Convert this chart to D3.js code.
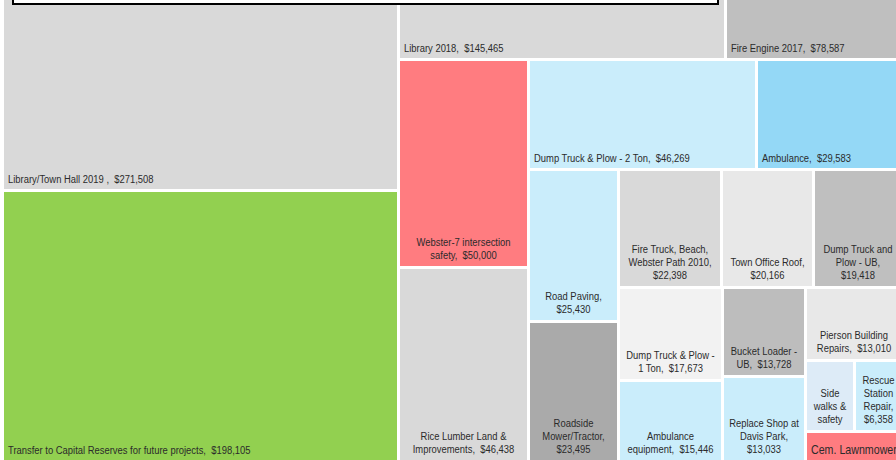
<!doctype html>
<html>
<head>
<meta charset="utf-8">
<script src="https://cdn.jsdelivr.net/npm/d3@7"></script>
<style>
  body { margin: 0; background: #fff; }
  svg { display: block; }
  text { font-family: "Liberation Sans", Arial, sans-serif; font-size: 11.5px; fill: #2b2b2b; }
</style>
</head>
<body>
<script>
// capital projects, in the order the cells are laid out
const names = [
  "Library/Town Hall 2019", "Transfer to Capital Reserves for future projects",
  "Library 2018", "Fire Engine 2017",
  "Webster-7 intersection safety", "Rice Lumber Land & Improvements",
  "Dump Truck & Plow - 2 Ton", "Ambulance",
  "Road Paving", "Roadside Mower/Tractor",
  "Fire Truck, Beach, Webster Path 2010", "Town Office Roof", "Dump Truck and Plow - UB",
  "Dump Truck & Plow - 1 Ton", "Ambulance equipment",
  "Bucket Loader - UB", "Replace Shop at Davis Park",
  "Pierson Building Repairs", "Side walks & safety", "Rescue Station Repair", "Cem. Lawnmower"
];
const values = [
  271508, 198105,
  145465, 78587,
  50000, 46438,
  46269, 29583,
  25430, 23495,
  22398, 20166, 19418,
  17673, 15446,
  13728, 13033,
  13010, 6420, 6358, 5300
];
// label text as shown, "|" marks a line break
const labels = [
  "Library/Town Hall 2019 ,  $271,508", "Transfer to Capital Reserves for future projects,  $198,105",
  "Library 2018,  $145,465", "Fire Engine 2017,  $78,587",
  "Webster-7 intersection|safety,  $50,000", "Rice Lumber Land &|Improvements,  $46,438",
  "Dump Truck & Plow - 2 Ton,  $46,269", "Ambulance,  $29,583",
  "Road Paving,|$25,430", "Roadside|Mower/Tractor,|$23,495",
  "Fire Truck, Beach,|Webster Path 2010,|$22,398", "Town Office Roof,|$20,166", "Dump Truck and|Plow - UB,|$19,418",
  "Dump Truck & Plow -|1 Ton,  $17,673", "Ambulance|equipment,  $15,446",
  "Bucket Loader -|UB,  $13,728", "Replace Shop at|Davis Park,|$13,033",
  "Pierson Building|Repairs,  $13,010", "Side|walks &|safety", "Rescue|Station|Repair,|$6,358", "Cem. Lawnmower"
];
const colors = [
  "#d9d9d9", "#92d050",
  "#d9d9d9", "#bfbfbf",
  "#ff7c80", "#d9d9d9",
  "#caedfb", "#94d8f6",
  "#caedfb", "#aaaaaa",
  "#d9d9d9", "#e8e8e8", "#bfbfbf",
  "#f2f2f2", "#caedfb",
  "#bdbdbd", "#caedfb",
  "#e8e8e8", "#ddebf7", "#caedfb", "#ff7c80"
];
// nesting of the layout: "h" splits left to right, "v" top to bottom
const groups = ["h", ["v", 0, 1], ["v", ["h", 2, 3], ["h", ["v", 4, 5], ["v", ["h", 6, 7],
  ["h", ["v", 8, 9], ["v", ["h", 10, 11, 12], ["h", ["v", 13, 14], ["v", 15, 16], ["v", 17, ["h", 18, 19], 20]]]]]]]];

const width = 896, height = 460;
const narrow = 0.82; // squeeze Liberation Sans to look like a narrow face

function build(g) {
  if (typeof g === "number") return {i: g, name: names[g], value: values[g]};
  const [dir, ...kids] = g;
  return {dir, children: kids.map(build)};
}

const root = d3.hierarchy(build(groups)).sum(d => d.value || 0);

d3.treemap()
    .tile((node, x0, y0, x1, y1) => (node.data.dir === "h" ? d3.treemapDice : d3.treemapSlice)(node, x0, y0, x1, y1))
    .size([897, 640])
    .paddingInner(3)
    .round(true)(root);

const svg = d3.select("body").append("svg")
    .attr("width", width)
    .attr("height", height);

const g = svg.append("g").attr("transform", "translate(4,-180)");

const cell = g.selectAll("g")
  .data(root.leaves())
  .join("g");

cell.append("rect")
    .attr("x", d => d.x0)
    .attr("y", d => d.y0)
    .attr("width", d => d.x1 - d.x0)
    .attr("height", d => d.y1 - d.y0)
    .attr("fill", d => colors[d.data.i]);

cell.each(function(d) {
  const lines = labels[d.data.i].split("|");
  const single = lines.length === 1;
  const ax = single ? d.x0 + 4 : (d.x0 + d.x1) / 2;
  const by = d.y1 - (single ? 6 : 7);
  const t = d3.select(this).append("text")
      .attr("transform", `translate(${ax},${by}) scale(${narrow},1)`)
      .attr("text-anchor", single ? "start" : "middle")
      .style("font-size", d.data.name === "Cem. Lawnmower" ? "13px" : null)
      .style("white-space", "pre");
  lines.forEach((s, k) => {
    t.append("tspan")
        .attr("x", 0)
        .attr("y", -(lines.length - 1 - k) * 13)
        .text(s);
  });
});

// title box edge, cut off at the top
svg.append("rect")
    .attr("x", 13)
    .attr("y", -10)
    .attr("width", 705)
    .attr("height", 14)
    .attr("fill", "#fff")
    .attr("stroke", "#000")
    .attr("stroke-width", 2);
</script>
</body>
</html>
